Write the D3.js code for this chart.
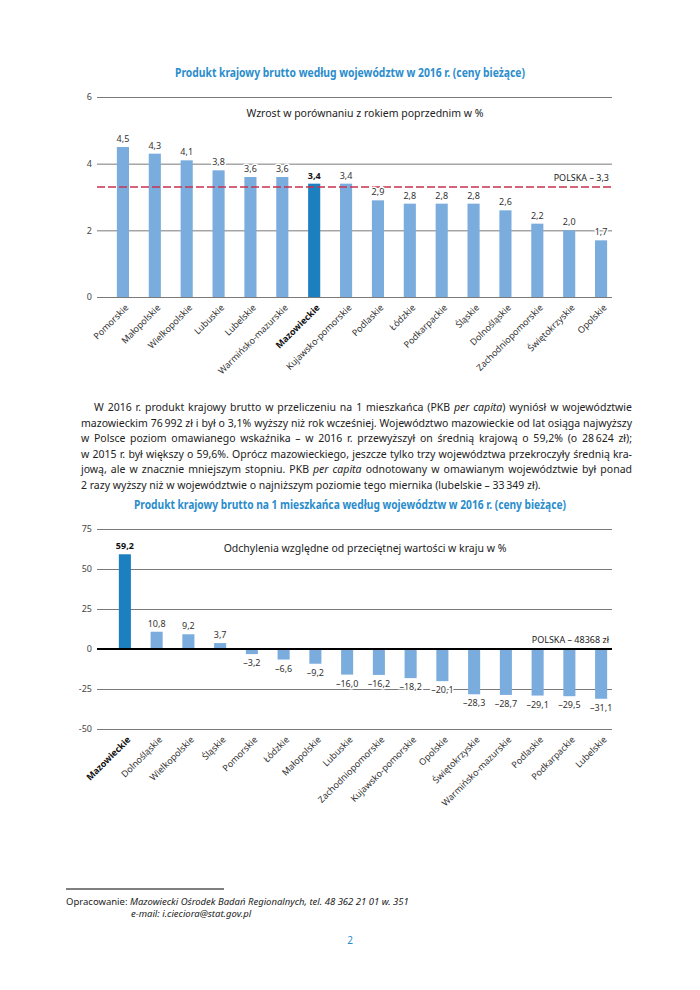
<!DOCTYPE html>
<html>
<head>
<meta charset="utf-8">
<script src="https://cdn.jsdelivr.net/npm/d3@7"></script>
<style>
  html, body { margin: 0; padding: 0; background: #fff; }
  #page { position: relative; width: 700px; height: 990px; overflow: hidden; }
  svg { position: absolute; left: 0; top: 0; }
  #para { position: absolute; left: 81px; top: 400px; width: 551px; font-family: "Noto Sans", sans-serif; color: #222; }
  #para div { white-space: nowrap; text-align: justify; text-align-last: justify; height: 15.5px; line-height: 15.5px; }
  #para div.first { padding-left: 13px; }
  #para div.last { text-align: left; text-align-last: left; }
</style>
</head>
<body>
<div id="page">
<svg id="chart" width="700" height="990"></svg>
<div id="para"></div>
</div>
<script>
// ---------- DATA ----------
const cats1 = ["Pomorskie","Małopolskie","Wielkopolskie","Lubuskie","Lubelskie","Warmińsko-mazurskie","Mazowieckie","Kujawsko-pomorskie","Podlaskie","Łódzkie","Podkarpackie","Śląskie","Dolnośląskie","Zachodniopomorskie","Świętokrzyskie","Opolskie"];
const vals1 = [4.5,4.3,4.1,3.8,3.6,3.6,3.4,3.4,2.9,2.8,2.8,2.8,2.6,2.2,2.0,1.7];
const ticks1 = [0,2,4,6];
const polska1 = 3.3;

const cats2 = ["Mazowieckie","Dolnośląskie","Wielkopolskie","Śląskie","Pomorskie","Łódzkie","Małopolskie","Lubuskie","Zachodniopomorskie","Kujawsko-pomorskie","Opolskie","Świętokrzyskie","Warmińsko-mazurskie","Podlaskie","Podkarpackie","Lubelskie"];
const vals2 = [59.2,10.8,9.2,3.7,-3.2,-6.6,-9.2,-16.0,-16.2,-18.2,-20.1,-28.3,-28.7,-29.1,-29.5,-31.1];
const ticks2 = [-50,-25,0,25,50,75];

const highlight = "Mazowieckie";

const title1 = "Produkt krajowy brutto według województw w 2016 r. (ceny bieżące)";
const subtitle1 = "Wzrost w porównaniu z rokiem poprzednim w %";
const refLabel1 = "POLSKA – 3,3";
const title2 = "Produkt krajowy brutto na 1 mieszkańca według województw w 2016 r. (ceny bieżące)";
const subtitle2 = "Odchylenia względne od przeciętnej wartości w kraju w %";
const refLabel2 = "POLSKA – 48368 zł";

const paraLines = [
  "W 2016 r. produkt krajowy brutto w przeliczeniu na 1 mieszkańca (PKB <i>per capita</i>) wyniósł w województwie",
  "mazowieckim 76\u202F992 zł i był o 3,1% wyższy niż rok wcześniej. Województwo mazowieckie od lat osiąga najwyższy",
  "w Polsce poziom omawianego wskaźnika – w 2016 r. przewyższył on średnią krajową o 59,2% (o 28\u202F624 zł);",
  "w 2015 r. był większy o 59,6%. Oprócz mazowieckiego, jeszcze tylko trzy województwa przekroczyły średnią kra-",
  "jową, ale w znacznie mniejszym stopniu. PKB <i>per capita</i> odnotowany w omawianym województwie był ponad",
  "2 razy wyższy niż w województwie o najniższym poziomie tego miernika (lubelskie – 33\u202F349 zł)."
];

// ---------- STYLE ----------
const FONT = "'Noto Sans', sans-serif";
const C_LIGHT = "#7aacdd";
const C_DARK = "#1b7fc0";
const C_TITLE = "#2a8dcc";
const C_REF = "#c8324f";
const C_GRID = "#7a7a7a";
const C_TEXT = "#333";

const fmt = v => d3.format(".1f")(Math.abs(v)).replace(".", ",");
const fmtSigned = v => (v < 0 ? "–" : "") + fmt(v);

const svg = d3.select("#chart");

function drawChart(cfg) {
  const g = svg.append("g");
  const x = d3.scaleBand().domain(cfg.cats).range(cfg.bandRange).paddingInner(0.62).paddingOuter(0.31);
  const y = d3.scaleLinear().domain(cfg.domain).range([cfg.yb, cfg.yt]);

  // title
  g.append("text").attr("x", 350).attr("y", cfg.titleY).attr("text-anchor", "middle")
    .attr("font-family", FONT).attr("font-weight", "bold").attr("font-size", 11.5)
    .attr("fill", C_TITLE).attr("textLength", cfg.titleLen).attr("lengthAdjust", "spacingAndGlyphs")
    .text(cfg.title);

  // gridlines + axis
  const yAxis = d3.axisLeft(y).tickValues(cfg.ticks).tickSize(-(cfg.x1 - cfg.x0)).tickPadding(5)
    .tickFormat(d => d < 0 ? "-" + Math.abs(d) : String(d));
  const ax = g.append("g").attr("transform", `translate(${cfg.x0},0)`).call(yAxis);
  ax.select(".domain").remove();
  ax.selectAll(".tick line").attr("stroke", C_GRID).attr("stroke-width", 1);
  ax.selectAll(".tick text").attr("font-family", FONT).attr("font-size", 9).attr("fill", "#444");

  // subtitle
  g.append("text").attr("x", 365).attr("y", cfg.subY).attr("text-anchor", "middle")
    .attr("font-family", FONT).attr("font-size", 10.5).attr("fill", "#222").text(cfg.subtitle);

  // bars
  g.append("g").selectAll("rect").data(cfg.cats).join("rect")
    .attr("x", d => x(d)).attr("width", x.bandwidth())
    .attr("y", (d, i) => y(Math.max(0, cfg.vals[i])))
    .attr("height", (d, i) => Math.abs(y(cfg.vals[i]) - y(0)))
    .attr("fill", d => d === highlight ? C_DARK : C_LIGHT);

  if (cfg.zeroBold) {
    g.append("line").attr("x1", cfg.x0).attr("x2", cfg.x1).attr("y1", y(0)).attr("y2", y(0))
      .attr("stroke", "#000").attr("stroke-width", 2);
  }

  // reference line
  if (cfg.ref !== null) {
    g.append("line").attr("x1", cfg.x0).attr("x2", cfg.x1).attr("y1", y(cfg.ref)).attr("y2", y(cfg.ref))
      .attr("stroke", C_REF).attr("stroke-width", 1.6).attr("stroke-dasharray", "8,3");
  }
  g.append("text").attr("x", cfg.x1 - 3).attr("y", cfg.refLabelY).attr("text-anchor", "end")
    .attr("font-family", FONT).attr("font-size", 9).attr("fill", "#222").text(cfg.refLabel);

  // value labels
  g.append("g").selectAll("text").data(cfg.cats).join("text")
    .attr("x", d => x(d) + x.bandwidth() / 2)
    .attr("y", (d, i) => cfg.vals[i] >= 0 ? y(cfg.vals[i]) - 5 : y(cfg.vals[i]) + 12)
    .attr("text-anchor", "middle").attr("font-family", FONT).attr("font-size", 9)
    .attr("font-weight", d => d === highlight ? "bold" : "normal")
    .attr("fill", d => d === highlight ? "#111" : C_TEXT)
    .attr("stroke", "#fff").attr("stroke-width", 3).attr("paint-order", "stroke")
    .text((d, i) => fmtSigned(cfg.vals[i]));

  // category labels
  g.append("g").selectAll("text").data(cfg.cats).join("text")
    .attr("transform", d => `translate(${x(d) + x.bandwidth() / 2 + 4},${cfg.catY}) rotate(-45)`)
    .attr("text-anchor", "end").attr("dy", "0.35em")
    .attr("font-family", FONT).attr("font-size", 9)
    .attr("font-weight", d => d === highlight ? "bold" : "normal")
    .attr("fill", d => d === highlight ? "#111" : C_TEXT)
    .text(d => d);
}

drawChart({
  cats: cats1, vals: vals1, ticks: ticks1, domain: [0, 6],
  x0: 97, x1: 612, bandRange: [107, 617], yb: 297, yt: 97,
  title: title1, titleY: 77, titleLen: 350,
  subtitle: subtitle1, subY: 117,
  ref: polska1, refLabel: refLabel1, refLabelY: 181,
  catY: 306, zeroBold: false
});

drawChart({
  cats: cats2, vals: vals2, ticks: ticks2, domain: [-50, 75],
  x0: 97, x1: 612, bandRange: [109, 617], yb: 729, yt: 529,
  title: title2, titleY: 509, titleLen: 432,
  subtitle: subtitle2, subY: 552,
  ref: null, refLabel: refLabel2, refLabelY: 643,
  catY: 738, zeroBold: true
});

// ---------- PARAGRAPH ----------
const para = d3.select("#para");
para.selectAll("div").data(paraLines).join("div")
  .attr("class", (d, i) => i === 0 ? "first" : (i === paraLines.length - 1 ? "last" : null))
  .html(d => d);
(function fit() {
  const probe = document.createElement("span");
  probe.style.cssText = "position:absolute;visibility:hidden;white-space:nowrap;font-family:'Noto Sans',sans-serif;font-size:10px";
  probe.innerHTML = paraLines[5];
  document.body.appendChild(probe);
  const w = probe.getBoundingClientRect().width;
  document.body.removeChild(probe);
  const fs = 10 * 460 / w;
  para.style("font-size", fs.toFixed(2) + "px");
})();

// ---------- FOOTER ----------
svg.append("line").attr("x1", 66).attr("x2", 224).attr("y1", 889).attr("y2", 889).attr("stroke", "#000").attr("stroke-width", 1);
const f1 = svg.append("text").attr("x", 66).attr("y", 905).attr("font-family", FONT).attr("font-size", 9.5).attr("fill", "#222");
f1.append("tspan").text("Opracowanie: ");
f1.append("tspan").attr("font-style", "italic").text("Mazowiecki Ośrodek Badań Regionalnych, tel. 48 362 21 01 w. 351");
svg.append("text").attr("x", 131).attr("y", 917).attr("font-family", FONT).attr("font-size", 9.5).attr("font-style", "italic").attr("fill", "#222")
  .text("e-mail: i.cieciora@stat.gov.pl");
svg.append("text").attr("x", 350).attr("y", 944).attr("text-anchor", "middle").attr("font-family", FONT).attr("font-size", 10).attr("fill", C_TITLE).text("2");
</script>
</body>
</html>
